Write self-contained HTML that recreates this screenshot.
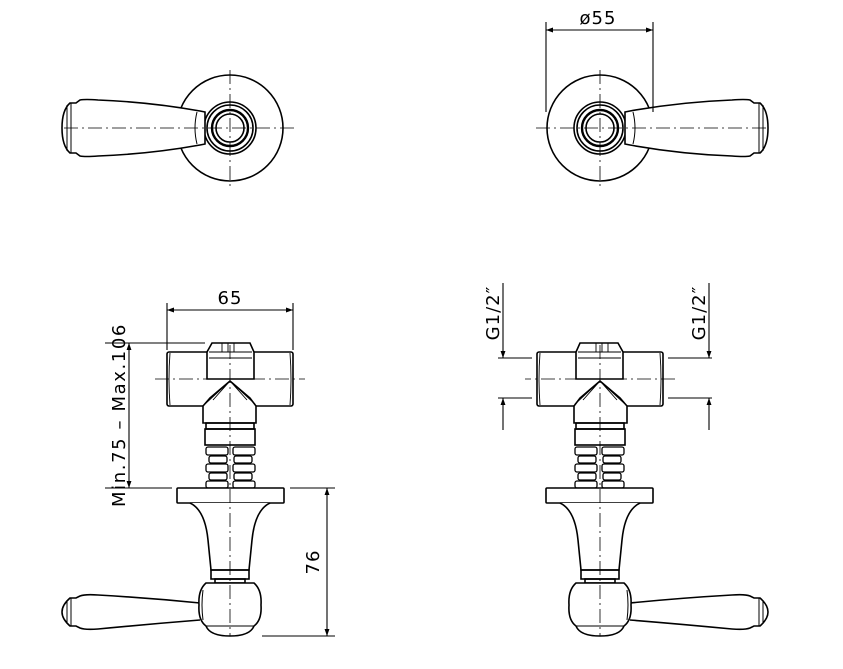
<!DOCTYPE html>
<html><head><style>
html,body{margin:0;padding:0;background:#fff;width:843px;height:669px;overflow:hidden}
svg{display:block}
text{font-family:"DejaVu Sans","Liberation Sans",sans-serif;font-size:18px;fill:#000;letter-spacing:1px}
</style></head><body>
<svg width="843" height="669" viewBox="0 0 843 669" xmlns="http://www.w3.org/2000/svg">
<defs>
<marker id="ar" viewBox="0 0 10 10" refX="10" refY="5" markerWidth="10" markerHeight="7" orient="auto-start-reverse" markerUnits="userSpaceOnUse">
<path d="M0,1.5 L10,5 L0,8.5 z" fill="#000"/></marker>
<g id="top" fill="none" stroke="#000" stroke-width="1.6">
  <circle cx="230" cy="128" r="53" fill="#fff"/>
  <circle cx="230" cy="128" r="26"/>
  <circle cx="230" cy="128" r="23"/>
  <circle cx="230" cy="128" r="18" stroke-width="2.4"/>
  <circle cx="230" cy="128" r="14"/>
  <path d="M205,112 L200,111 Q150,102 98,100 Q85,99 80,100 L76,103 L70,103 Q62,110 62,128 Q62,146 70,153 L76,153 L80,156 Q85,157 98,156 Q150,154 200,145 L205,144 Z" fill="#fff"/>
  <path d="M67,105 L67,151 M71,103 L71,153" stroke-width="1"/>
  <path d="M197,112 Q193,128 197,144" stroke-width="1"/>
  <g stroke-width="0.8" stroke-dasharray="14,4,2,4">
    <path d="M64,128 L295,128"/><path d="M230,70 L230,186"/>
  </g>
</g>
<g id="front" fill="none" stroke="#000" stroke-width="1.6">
  <rect x="167" y="352" width="126" height="54" rx="2" fill="#fff"/>
  <path d="M170,353 Q168,379 170,405 M290,353 Q292,379 290,405" stroke-width="0.9"/>
  <path d="M212,343 L250,343 L254,352 L254,379 L207,379 L207,352 Z" fill="#fff"/>
  <path d="M209,352 L252,352 M209,358 L252,358 M222,343 L222,352 M228,343 L228,352 M234,343 L234,352" stroke-width="0.9"/>
  <path d="M203,406 L203,423 L256,423 L256,406 L250,398 L230,381 L210,398 Z" fill="#fff"/>
  <path d="M230,381 L205,404 M230,381 L213,400 M230,381 L255,404 M230,381 L247,400" stroke-width="0.9"/>
  <rect x="206" y="423" width="48" height="6"/>
  <rect x="205" y="429" width="50" height="16"/>
  <g stroke-width="1.3">
    <rect x="206" y="447" width="22" height="8" rx="2"/><rect x="233" y="447" width="22" height="8" rx="2"/>
    <rect x="209" y="456" width="18" height="7" rx="2"/><rect x="234" y="456" width="18" height="7" rx="2"/>
    <rect x="206" y="464" width="22" height="8" rx="2"/><rect x="233" y="464" width="22" height="8" rx="2"/>
    <rect x="209" y="473" width="18" height="7" rx="2"/><rect x="234" y="473" width="18" height="7" rx="2"/>
    <rect x="206" y="481" width="22" height="7" rx="2"/><rect x="233" y="481" width="22" height="7" rx="2"/>
  </g>
  <rect x="177" y="488" width="107" height="15" rx="1" fill="#fff"/>
  <path d="M190,503 Q205,510 208,540 L211,570 L249,570 L252,540 Q255,510 270,503" fill="#fff"/>
  <rect x="211" y="570" width="38" height="9"/>
  <rect x="215" y="579" width="30" height="4"/>
  <path d="M200,603 Q150,598 98,595 Q85,594 80,596 L76,598 L70,598 Q62,605 62,612 Q62,619 70,626 L76,626 L80,628 Q85,630 98,629 Q150,624 200,620" fill="#fff"/>
  <path d="M67,600 L67,624 M71,598 L71,626" stroke-width="1"/>
  <path d="M206,583 L254,583 Q262,590 261,605 Q262,620 254,626 Q250,636 230,636 Q210,636 206,626 Q198,620 199,605 Q198,590 206,583 Z" fill="#fff"/>
  <path d="M206,626 L254,626 M203,590 Q201,605 203,620" stroke-width="1"/>
  <g stroke-width="0.8" stroke-dasharray="14,4,2,4">
    <path d="M230,345 L230,636"/><path d="M155,379 L305,379"/>
  </g>
</g>
</defs>

<use href="#top"/>
<use href="#top" transform="translate(830,0) scale(-1,1)"/>
<use href="#front"/>
<use href="#front" transform="translate(830,0) scale(-1,1)"/>

<g stroke="#000" stroke-width="1.1" fill="none">
  <path d="M546,22 L546,112 M653,22 L653,112"/>
  <path d="M546,30 L653,30" marker-start="url(#ar)" marker-end="url(#ar)"/>
  <path d="M167,303 L167,350 M293,303 L293,350"/>
  <path d="M167,310 L293,310" marker-start="url(#ar)" marker-end="url(#ar)"/>
  <path d="M105,343 L205,343 M105,488 L172,488"/>
  <path d="M129,343 L129,488" marker-start="url(#ar)" marker-end="url(#ar)"/>
  <path d="M290,488 L335,488 M262,636 L335,636"/>
  <path d="M327,488 L327,636" marker-start="url(#ar)" marker-end="url(#ar)"/>
  <path d="M498,358 L532,358 M498,398 L532,398 M668,358 L712,358 M668,398 L712,398"/>
  <path d="M503,283 L503,358" marker-end="url(#ar)"/>
  <path d="M503,430 L503,398" marker-end="url(#ar)"/>
  <path d="M709,283 L709,358" marker-end="url(#ar)"/>
  <path d="M709,430 L709,398" marker-end="url(#ar)"/>
</g>
<text x="598" y="24" text-anchor="middle">ø55</text>
<text x="230" y="304" text-anchor="middle">65</text>
<text transform="translate(125,415) rotate(-90)" text-anchor="middle" style="letter-spacing:1.6px">Min.75  –  Max.106</text>
<text transform="translate(319,562) rotate(-90)" text-anchor="middle">76</text>
<text transform="translate(499,313) rotate(-90)" text-anchor="middle">G1/2″</text>
<text transform="translate(705,313) rotate(-90)" text-anchor="middle">G1/2″</text>
</svg>
</body></html>
